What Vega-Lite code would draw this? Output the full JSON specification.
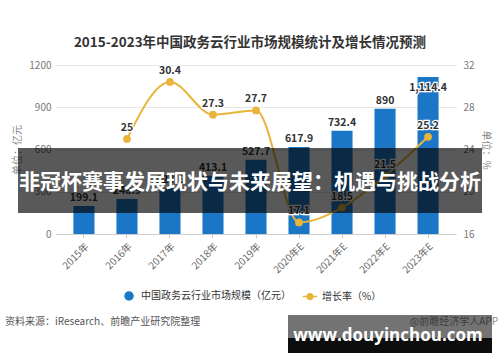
{
  "$schema": "https://vega.github.io/schema/vega-lite/v6.json",
  "width": 400,
  "height": 169,
  "autosize": "none",
  "padding": {"left": 56, "top": 65, "right": 44, "bottom": 128},
  "background": "white",
  "config": {
    "font": "Noto Sans CJK SC",
    "view": {"stroke": null}
  },
  "title": {
    "text": "2015-2023年中国政务云行业市场规模统计及增长情况预测",
    "fontSize": 13.5,
    "fontWeight": "bold",
    "color": "#333333",
    "anchor": "middle",
    "dx": -6,
    "baseline": "bottom",
    "offset": -3
  },
  "datasets": {
    "main": [
      {"year": "2015年", "size": 199.1, "growth": null},
      {"year": "2016年", "size": 248.9, "growth": 25},
      {"year": "2017年", "size": 324.6, "growth": 30.4},
      {"year": "2018年", "size": 413.1, "growth": 27.3},
      {"year": "2019年", "size": 527.7, "growth": 27.7},
      {"year": "2020年E", "size": 617.9, "growth": 17.1},
      {"year": "2021年E", "size": 732.4, "growth": 18.5},
      {"year": "2022年E", "size": 890, "growth": 21.5},
      {"year": "2023年E", "size": 1114.4, "growth": 25.2}
    ],
    "overlay": [
      {"text": "非冠杯赛事发展现状与未来展望：机遇与挑战分析"},
      {"text": "资料来源：iResearch、前瞻产业研究院整理"},
      {"text": "@前瞻经济学人APP"},
      {"text": "www.douyinchou.com"}
    ]
  },
  "layer": [
    {
      "data": {"name": "main"},
      "encoding": {
        "x": {
          "field": "year",
          "type": "nominal",
          "sort": null,
          "scale": {"paddingInner": 0.51, "paddingOuter": 0.405},
          "axis": {
            "title": null,
            "labelAngle": -45,
            "labelFontSize": 10,
            "labelColor": "#666666",
            "domainColor": "#cccccc",
            "tickColor": "#cccccc",
            "tickSize": 4,
            "labelPadding": 3
          }
        }
      },
      "layer": [
        {
          "encoding": {
            "y": {
              "field": "size",
              "type": "quantitative",
              "scale": {"domain": [0, 1200], "nice": false},
              "axis": {
                "title": "单位：亿元",
                "titleFontSize": 10,
                "titleFontWeight": "normal",
                "titleColor": "#888888",
                "titlePadding": 6,
                "values": [0, 300, 600, 900, 1200],
                "format": "d",
                "labelFontSize": 10,
                "labelColor": "#777777",
                "labelPadding": 5,
                "ticks": false,
                "domain": false,
                "gridColor": "#e6e6e6"
              }
            }
          },
          "layer": [
            {
              "mark": {"type": "bar"},
              "encoding": {
                "color": {
                  "datum": "中国政务云行业市场规模（亿元）",
                  "type": "nominal",
                  "scale": {
                    "domain": ["中国政务云行业市场规模（亿元）", "增长率（%）"],
                    "range": ["#1b77c5", "#e9b43a"]
                  },
                  "legend": {
                    "orient": "none",
                    "legendX": 68,
                    "legendY": 226,
                    "direction": "horizontal",
                    "title": null,
                    "labelFontSize": 10,
                    "labelColor": "#333333",
                    "symbolSize": 64,
                    "labelOffset": 7,
                    "columnPadding": 8,
                    "encode": {
                      "symbols": {
                        "update": {
                          "shape": {"signal": "datum.value === '增长率（%）' ? 'M-1.8,0L-0.7,0M0.7,0L1.8,0M-0.7,0A0.7,0.7 0 1,1 0.7,0A0.7,0.7 0 1,1 -0.7,0Z' : 'circle'"},
                          "fill": {"scale": "color", "field": "value"},
                          "stroke": {"scale": "color", "field": "value"},
                          "strokeWidth": {"value": 1.5}
                        }
                      }
                    }
                  }
                }
              }
            },
            {
              "transform": [{"filter": "datum.year !== '2023年E'"}],
              "mark": {"type": "text", "dy": -8, "fontSize": 10.5, "fontWeight": "bold", "color": "#333333", "baseline": "middle"},
              "encoding": {"text": {"field": "size", "type": "quantitative", "format": ",.1~f"}}
            },
            {
              "transform": [{"filter": "datum.year === '2023年E'"}],
              "mark": {"type": "text", "dy": 11, "fontSize": 10.5, "fontWeight": "bold", "color": "white", "stroke": "white", "strokeWidth": 2.5, "baseline": "middle"},
              "encoding": {"text": {"field": "size", "type": "quantitative", "format": ",.1~f"}}
            },
            {
              "transform": [{"filter": "datum.year === '2023年E'"}],
              "mark": {"type": "text", "dy": 11, "fontSize": 10.5, "fontWeight": "bold", "color": "#333333", "baseline": "middle"},
              "encoding": {"text": {"field": "size", "type": "quantitative", "format": ",.1~f"}}
            }
          ]
        },
        {
          "transform": [{"filter": "datum.growth != null"}],
          "encoding": {
            "y": {
              "field": "growth",
              "type": "quantitative",
              "scale": {"domain": [16, 32], "nice": false, "zero": false},
              "axis": {
                "orient": "right",
                "title": "单位：%",
                "titleFontSize": 10,
                "titleFontWeight": "normal",
                "titleColor": "#888888",
                "titlePadding": 6,
                "values": [16, 20, 24, 28, 32],
                "labelFontSize": 10,
                "labelColor": "#777777",
                "labelPadding": 7,
                "ticks": false,
                "domain": false,
                "grid": false
              }
            }
          },
          "layer": [
            {
              "mark": {"type": "line", "interpolate": "monotone", "strokeWidth": 2},
              "encoding": {"color": {"datum": "增长率（%）", "type": "nominal"}}
            },
            {
              "mark": {"type": "point", "filled": true, "size": 60, "opacity": 1, "color": "#e9b43a"}
            },
            {
              "mark": {"type": "text", "dy": -11, "fontSize": 10.5, "fontWeight": "bold", "color": "white", "stroke": "white", "strokeWidth": 2.5, "baseline": "middle"},
              "encoding": {"text": {"field": "growth", "type": "quantitative", "format": ".1~f"}}
            },
            {
              "mark": {"type": "text", "dy": -11, "fontSize": 10.5, "fontWeight": "bold", "color": "#333333", "baseline": "middle"},
              "encoding": {"text": {"field": "growth", "type": "quantitative", "format": ".1~f"}}
            }
          ]
        }
      ],
      "resolve": {"scale": {"y": "independent"}}
    },
    {
      "data": {"name": "overlay"},
      "encoding": {
        "x": {"datum": 0.5, "type": "quantitative", "scale": {"domain": [0, 1], "nice": false, "zero": false}, "axis": null},
        "y": {"datum": 0, "type": "quantitative", "scale": {"domain": [0, 1200], "nice": false}, "axis": null}
      },
      "layer": [
        {
          "transform": [{"filter": "datum.text === '资料来源：iResearch、前瞻产业研究院整理'"}],
          "mark": {"type": "text", "align": "left", "baseline": "middle", "fontSize": 10, "color": "#555555"},
          "encoding": {"text": {"field": "text"}, "x": {"datum": -0.1275, "type": "quantitative"}, "y": {"datum": -625, "type": "quantitative"}}
        },
        {
          "transform": [{"filter": "datum.text === '@前瞻经济学人APP'"}],
          "mark": {"type": "text", "align": "right", "baseline": "middle", "fontSize": 10, "color": "#888888"},
          "encoding": {"text": {"field": "text"}, "x": {"datum": 1.105, "type": "quantitative"}, "y": {"datum": -625, "type": "quantitative"}}
        },
        {
          "transform": [{"filter": "datum.text === '非冠杯赛事发展现状与未来展望：机遇与挑战分析'"}],
          "mark": {"type": "rect", "color": "black", "opacity": 0.65},
          "encoding": {"x": {"datum": -0.095, "type": "quantitative"}, "x2": {"datum": 1.065}, "y": {"datum": 611, "type": "quantitative"}, "y2": {"datum": 149}}
        },
        {
          "transform": [{"filter": "datum.text === '非冠杯赛事发展现状与未来展望：机遇与挑战分析'"}],
          "mark": {"type": "text", "align": "center", "baseline": "middle", "fontSize": 21, "fontWeight": "bold", "color": "white"},
          "encoding": {"text": {"field": "text"}, "x": {"datum": 0.485, "type": "quantitative"}, "y": {"datum": 362, "type": "quantitative"}}
        },
        {
          "transform": [{"filter": "datum.text === 'www.douyinchou.com'"}],
          "mark": {"type": "rect", "color": "black", "opacity": 0.55},
          "encoding": {"x": {"datum": 0.58, "type": "quantitative"}, "x2": {"datum": 1.09}, "y": {"datum": -575, "type": "quantitative"}, "y2": {"datum": -739}}
        },
        {
          "transform": [{"filter": "datum.text === 'www.douyinchou.com'"}],
          "mark": {"type": "rect", "color": "black", "opacity": 0.95},
          "encoding": {"x": {"datum": 0.58, "type": "quantitative"}, "x2": {"datum": 1.09}, "y": {"datum": -739, "type": "quantitative"}, "y2": {"datum": -845}}
        },
        {
          "transform": [{"filter": "datum.text === 'www.douyinchou.com'"}],
          "mark": {"type": "text", "align": "center", "baseline": "middle", "fontSize": 17, "fontWeight": "bold", "font": "Open Sans", "color": "white"},
          "encoding": {"text": {"field": "text"}, "x": {"datum": 0.83, "type": "quantitative"}, "y": {"datum": -724, "type": "quantitative"}}
        }
      ]
    }
  ],
  "resolve": {"scale": {"x": "independent", "y": "independent"}}
}
